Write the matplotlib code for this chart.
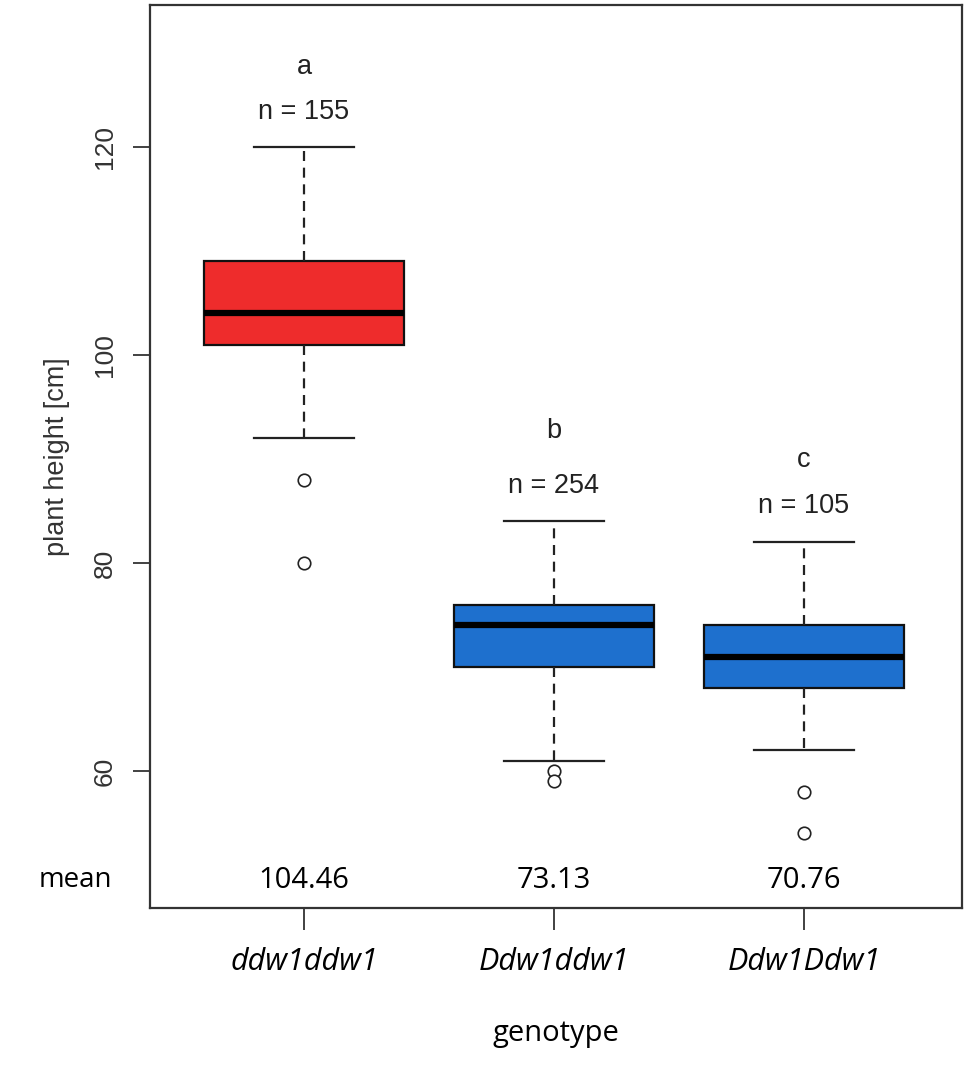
import matplotlib.pyplot as plt

# Box summary values
genotypes = ["ddw1ddw1", "Ddw1ddw1", "Ddw1Ddw1"]
q1 = [101, 70, 68]
med = [104, 74, 71]
q3 = [109, 76, 74]
whislo = [92, 61, 62]
whishi = [120, 84, 82]
fliers = [[88, 80], [60, 59], [58, 54]]
box_colors = ["#EE2C2C", "#1E70CE", "#1E70CE"]

letters = ["a", "b", "c"]
letter_y = [127.7, 92.7, 89.9]
n_obs = [155, 254, 105]
n_y = [123.4, 87.4, 85.5]
means = ["104.46", "73.13", "70.76"]

fig = plt.figure(figsize=(9.7, 10.71), dpi=100)
ax = fig.add_axes([150 / 970, 1 - 908 / 1071, 812 / 970, 903 / 1071])

stats = []
for i, g in enumerate(genotypes):
    stats.append(dict(label=g, q1=q1[i], med=med[i], q3=q3[i],
                      whislo=whislo[i], whishi=whishi[i], fliers=fliers[i]))

pos = [1, 2, 3]
bp = ax.bxp(stats, positions=pos, widths=0.8, patch_artist=True,
            boxprops=dict(linewidth=1.6, edgecolor="#111111"),
            medianprops=dict(color="black", linewidth=4.5, solid_capstyle="butt"),
            whiskerprops=dict(color="#222222", linewidth=1.6, linestyle=(0, (4.5, 3))),
            capprops=dict(color="#222222", linewidth=1.6),
            flierprops=dict(marker="o", markersize=9, markerfacecolor="white",
                            markeredgecolor="#222222", markeredgewidth=1.2))
for b, c in zip(bp["boxes"], box_colors):
    b.set_facecolor(c)
for cap in bp["caps"]:
    x0, x1 = cap.get_xdata()
    xc = (x0 + x1) / 2
    cap.set_xdata([xc - 0.2, xc + 0.2])

ax.set_xlim(0.384, 3.632)
ax.set_ylim(46.83, 133.65)

for x, l, ly, n, ny in zip(pos, letters, letter_y, n_obs, n_y):
    ax.text(x, ly, l, ha="center", va="center", fontsize=19.5,
            family="Liberation Sans", color="#222222")
    ax.text(x, ny, f"n = {n}", ha="center", va="center", fontsize=19.5,
            family="Liberation Sans", color="#222222")

for x, m in zip(pos, means):
    ax.text(x, 49.5, m, ha="center", va="center", fontsize=21,
            family="Open Sans", color="black")
ax.text(-0.092, 49.5, "mean", transform=ax.get_yaxis_transform(),
        ha="center", va="center", fontsize=20, family="Open Sans",
        color="black", clip_on=False)

ax.set_yticks([60, 80, 100, 120])
ax.set_yticklabels(["60", "80", "100", "120"], rotation=90, va="center",
                   fontsize=19, family="Liberation Sans", color="#333333")
ax.set_xticks(pos)
ax.set_xticklabels(genotypes, fontsize=22, family="Open Sans",
                   style="italic", color="black")
ax.tick_params(axis="y", length=12, width=1.3, pad=12, color="#333333")
ax.tick_params(axis="x", length=16, width=1.3, pad=12, color="#333333")

for s in ax.spines.values():
    s.set_linewidth(1.6)
    s.set_color("#333333")

ax.set_ylabel("plant height [cm]", fontsize=19.5, family="Liberation Sans",
              color="#333333", labelpad=16)
ax.set_xlabel("genotype", fontsize=21, family="Open Sans", color="black",
              labelpad=30)

fig.savefig("out.png", dpi=100)
